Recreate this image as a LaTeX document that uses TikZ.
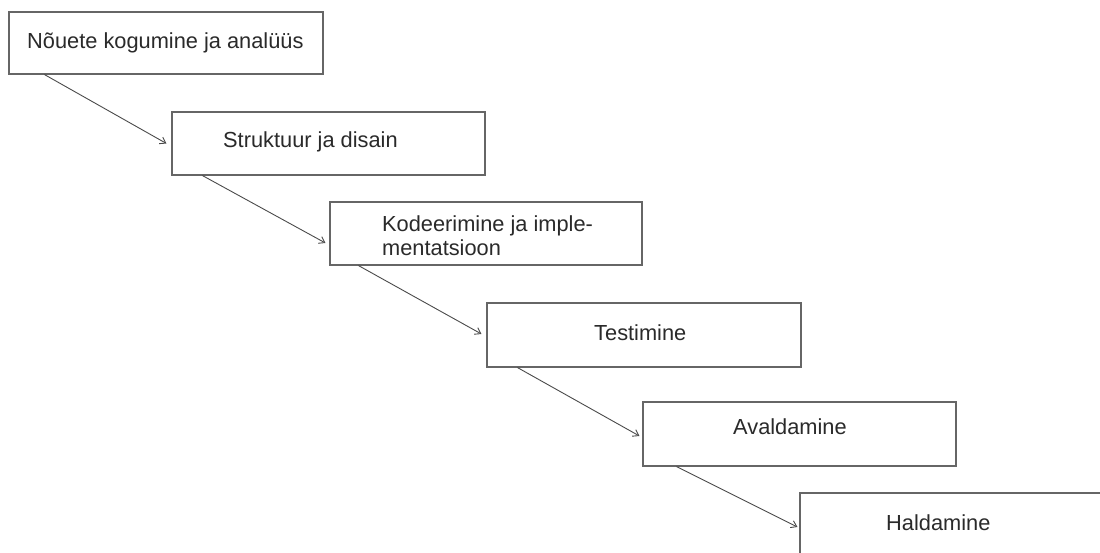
\documentclass[tikz,border=0pt]{standalone}
\usepackage{fontspec}
\setmainfont{Liberation Sans}
\usetikzlibrary{arrows.meta}
\definecolor{boxline}{HTML}{666666}
\definecolor{arrowline}{HTML}{4A4A4A}
\definecolor{inktext}{HTML}{2A2A2A}
\tikzset{
  stage/.style={draw=boxline, line width=1.1pt, fill=white, inner sep=0pt, rectangle},
  lbl/.style={inner sep=0pt, text=inktext, font=\fontsize{21.8}{24}\selectfont, anchor=base west},
  flow/.style={draw=arrowline, line width=0.9pt, -{Straight Barb[length=5.5pt,width=7.5pt]}}
}
\begin{document}
\begin{tikzpicture}[x=1pt,y=-1pt]
  \useasboundingbox (0,0) rectangle (1100,552);
  \clip (0,0) rectangle (1100,552);
  % the six stages, stepping down to the right
  \node[stage, minimum width=314pt, minimum height=62pt] (b1) at (166,43) {};
  \node[stage, minimum width=313pt, minimum height=63pt] (b2) at (328.5,143.5) {};
  \node[stage, minimum width=312pt, minimum height=63pt] (b3) at (486,233.5) {};
  \node[stage, minimum width=314pt, minimum height=64pt] (b4) at (644,335) {};
  \node[stage, minimum width=313pt, minimum height=64pt] (b5) at (799.5,434) {};
  \node[stage, minimum width=313pt, minimum height=63pt] (b6) at (956.5,524.5) {};
  % stage titles
  \node[lbl] (t1) at (27,48) {Nõuete kogumine ja analüüs};
  \node[lbl] (t2) at (223,147) {Struktuur ja disain};
  \node[lbl] (t3a) at (382,231) {Kodeerimine ja imple-};
  \node[lbl] (t3b) at (382,255) {mentatsioon};
  \node[lbl] (t4) at (594,340) {Testimine};
  \node[lbl] (t5) at (733,434) {Avaldamine};
  \node[lbl] (t6) at (886,530) {Haldamine};
  % connectors between consecutive stages
  \draw[flow] ([xshift=36pt]b1.south west) -- ([xshift=-5pt]b2.west);
  \draw[flow] ([xshift=31pt]b2.south west) -- ([xshift=-4pt,yshift=-9.5pt]b3.west);
  \draw[flow] ([xshift=29pt]b3.south west) -- ([xshift=-5pt,yshift=1pt]b4.west);
  \draw[flow] ([xshift=31pt]b4.south west) -- ([xshift=-3pt,yshift=-2pt]b5.west);
  \draw[flow] ([xshift=34pt]b5.south west) -- ([xshift=-2pt,yshift=-2.5pt]b6.west);
\end{tikzpicture}
\end{document}
